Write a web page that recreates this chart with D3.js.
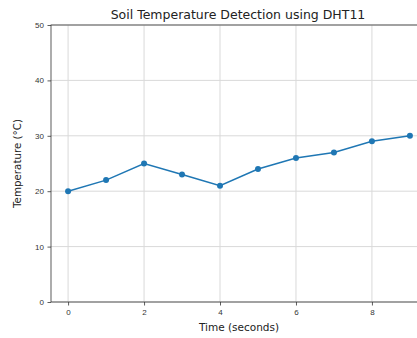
<!DOCTYPE html>
<html>
<head>
<meta charset="utf-8">
<script src="https://cdn.jsdelivr.net/npm/d3@7"></script>
<style>
  body { margin: 0; background: #fff; }
  svg { display: block; font-family: "DejaVu Sans", sans-serif; }
</style>
</head>
<body>
<script>
// data
var times = [0, 1, 2, 3, 4, 5, 6, 7, 8, 9];
var temps = [20, 22, 25, 23, 21, 24, 26, 27, 29, 30];
var xTicks = [0, 2, 4, 6, 8];
var yTicks = [0, 10, 20, 30, 40, 50];

var W = 417, H = 338;
var margin = {top: 25, left: 51, bottom: 36};
var plotRight = 427;   // the right edge is cut off in the original

var svg = d3.select("body").append("svg")
    .attr("width", W)
    .attr("height", H);

var x = d3.scaleLinear().domain([-0.45, 9.45]).range([margin.left, plotRight]);
var y = d3.scaleLinear().domain([0, 50]).range([H - margin.bottom, margin.top]);

// grid
svg.append("g").selectAll("line.vx")
    .data(xTicks)
  .enter().append("line")
    .attr("x1", d => x(d)).attr("x2", d => x(d))
    .attr("y1", y(0)).attr("y2", y(50))
    .attr("stroke", "#d9d9d9").attr("stroke-width", 1);
svg.append("g").selectAll("line.hy")
    .data(yTicks)
  .enter().append("line")
    .attr("x1", x(-0.45)).attr("x2", plotRight)
    .attr("y1", d => y(d)).attr("y2", d => y(d))
    .attr("stroke", "#d9d9d9").attr("stroke-width", 1);

// axes
var xAxis = svg.append("g")
    .attr("transform", "translate(0," + y(0) + ")")
    .call(d3.axisBottom(x).tickValues(xTicks).tickSize(3.5).tickPadding(3.5));
var yAxis = svg.append("g")
    .attr("transform", "translate(" + margin.left + ",0)")
    .call(d3.axisLeft(y).tickValues(yTicks).tickSize(3.5).tickPadding(3.5));
[xAxis, yAxis].forEach(function(a) {
  a.select(".domain").remove();
  a.selectAll("text").attr("font-size", 8).attr("fill", "#333");
  a.selectAll("line").attr("stroke", "#333").attr("stroke-width", 0.8);
});

// spines
svg.append("rect")
    .attr("x", margin.left).attr("y", margin.top)
    .attr("width", plotRight - margin.left)
    .attr("height", y(0) - margin.top)
    .attr("fill", "none").attr("stroke", "#333").attr("stroke-width", 0.8);

// line + markers
var pts = times.map((t, i) => ({t: t, v: temps[i]}));
svg.append("path")
    .datum(pts)
    .attr("fill", "none")
    .attr("stroke", "#1f77b4")
    .attr("stroke-width", 1.5)
    .attr("d", d3.line().x(d => x(d.t)).y(d => y(d.v)));
svg.append("g").selectAll("circle")
    .data(pts)
  .enter().append("circle")
    .attr("cx", d => x(d.t))
    .attr("cy", d => y(d.v))
    .attr("r", 3)
    .attr("fill", "#1f77b4");

// labels
svg.append("text")
    .attr("x", 238).attr("y", 19)
    .attr("text-anchor", "middle")
    .attr("font-size", 12.5).attr("fill", "#222")
    .text("Soil Temperature Detection using DHT11");
svg.append("text")
    .attr("x", 239).attr("y", 331)
    .attr("text-anchor", "middle")
    .attr("font-size", 10.5).attr("fill", "#222")
    .text("Time (seconds)");
svg.append("text")
    .attr("transform", "translate(21," + y(25) + ") rotate(-90)")
    .attr("text-anchor", "middle")
    .attr("font-size", 10.3).attr("fill", "#222")
    .text("Temperature (°C)");
</script>
</body>
</html>
